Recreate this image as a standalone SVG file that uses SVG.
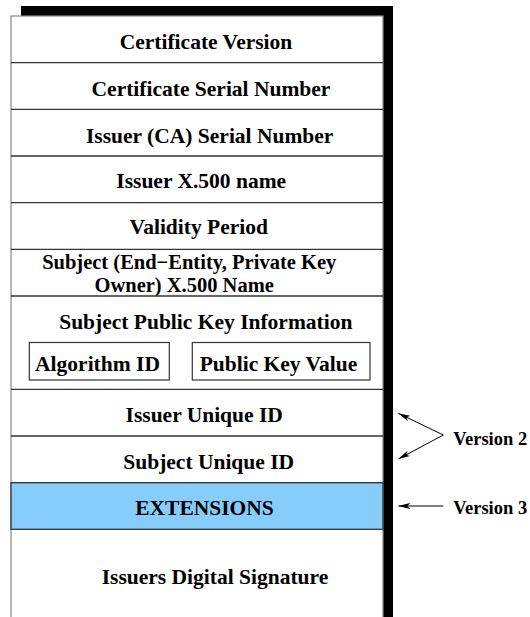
<svg xmlns="http://www.w3.org/2000/svg" width="530" height="617" viewBox="0 0 530 617">
  <defs>
    <style>
      .lbl { font-family: "Liberation Serif", "Times New Roman", serif; font-weight: bold; font-size: 21.5px; fill: #000; text-anchor: middle; }
      .tight { font-size: 20.5px; }
      .side { font-family: "Liberation Serif", "Times New Roman", serif; font-weight: bold; font-size: 18.5px; fill: #000; }
      .sep { stroke: #333; stroke-width: 1.3; }
      .sub { fill: #fff; stroke: #333; stroke-width: 1.2; }
      .conn { stroke: #000; stroke-width: 1; fill: none; }
    </style>
    <marker id="head" viewBox="0 0 12 6" refX="12" refY="3" markerWidth="12" markerHeight="6" markerUnits="userSpaceOnUse" orient="auto">
      <path d="M0,0 L12,3 L0,6 L3,3 Z" fill="#000"/>
    </marker>
  </defs>

  <rect width="530" height="617" fill="#fff"/>

  <!-- drop shadow and certificate frame -->
  <g id="frame">
    <rect x="21" y="6" width="372" height="620" fill="#000"/>
    <rect x="11" y="16" width="372" height="620" fill="#fff" stroke="#888" stroke-width="1.2"/>
  </g>

  <g id="version">
    <text class="lbl" x="206" y="48.5">Certificate Version</text>
    <line class="sep" x1="11" y1="62.7" x2="383" y2="62.7"/>
  </g>
  <g id="serial">
    <text class="lbl" x="211" y="95.5">Certificate Serial Number</text>
    <line class="sep" x1="11" y1="109.3" x2="383" y2="109.3"/>
  </g>
  <g id="issuer-serial">
    <text class="lbl" x="209.7" y="142.5">Issuer (CA) Serial Number</text>
    <line class="sep" x1="11" y1="156" x2="383" y2="156"/>
  </g>
  <g id="issuer-name">
    <text class="lbl" x="201.2" y="188">Issuer X.500 name</text>
    <line class="sep" x1="11" y1="202.7" x2="383" y2="202.7"/>
  </g>
  <g id="validity">
    <text class="lbl" x="198.8" y="234">Validity Period</text>
    <line class="sep" x1="11" y1="249.3" x2="383" y2="249.3"/>
  </g>
  <g id="subject-name">
    <text class="lbl tight" x="189.2" y="268.8">Subject (End−Entity, Private Key</text>
    <text class="lbl tight" x="184.2" y="291.5">Owner) X.500 Name</text>
    <line class="sep" x1="11" y1="296" x2="383" y2="296"/>
  </g>
  <g id="public-key-info">
    <text class="lbl" x="205.8" y="329.3">Subject Public Key Information</text>
    <g id="algorithm-id">
      <rect class="sub" x="29.3" y="342.5" width="140" height="37.5"/>
      <text class="lbl" x="97.5" y="370.7">Algorithm ID</text>
    </g>
    <g id="public-key-value">
      <rect class="sub" x="192.3" y="342.5" width="177.7" height="37.5"/>
      <text class="lbl" x="278.5" y="370.7">Public Key Value</text>
    </g>
    <line class="sep" x1="11" y1="389.3" x2="383" y2="389.3"/>
  </g>
  <g id="issuer-uid">
    <text class="lbl" x="204.2" y="422.3">Issuer Unique ID</text>
    <line class="sep" x1="11" y1="436" x2="383" y2="436"/>
  </g>
  <g id="subject-uid">
    <text class="lbl" x="208.7" y="469">Subject Unique ID</text>
    <line class="sep" x1="11" y1="482.7" x2="383" y2="482.7"/>
  </g>
  <g id="extensions">
    <rect x="11" y="482.7" width="372" height="46.6" fill="#87cdfb" stroke="#333" stroke-width="1.3"/>
    <text class="lbl" x="204.5" y="515">EXTENSIONS</text>
  </g>
  <g id="signature">
    <text class="lbl" x="215" y="584">Issuers Digital Signature</text>
  </g>

  <!-- version annotations -->
  <g id="connectors">
    <line class="conn" x1="443.3" y1="435" x2="398.3" y2="413.3" marker-end="url(#head)"/>
    <line class="conn" x1="443.3" y1="435" x2="398.3" y2="459" marker-end="url(#head)"/>
    <line class="conn" x1="443.3" y1="506" x2="398.3" y2="506" marker-end="url(#head)"/>
  </g>
  <g id="version-2">
    <text class="side" x="453.3" y="445">Version 2</text>
  </g>
  <g id="version-3">
    <text class="side" x="453.3" y="514">Version 3</text>
  </g>
</svg>
